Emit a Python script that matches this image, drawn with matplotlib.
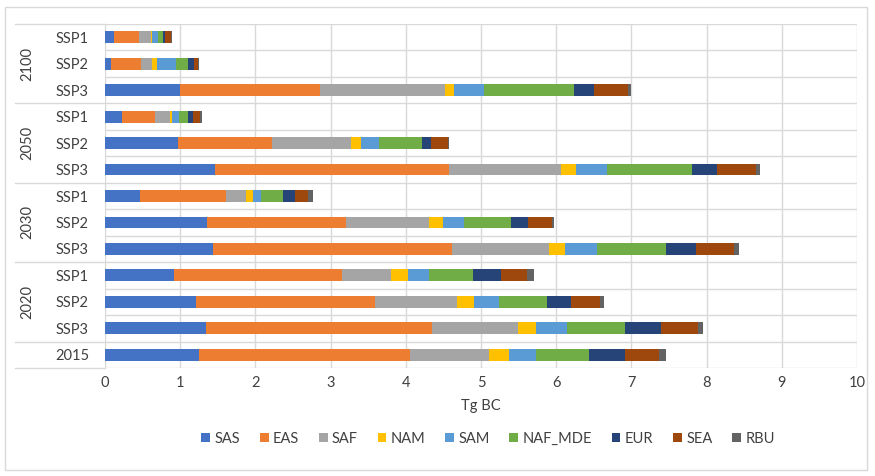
import matplotlib

matplotlib.use("Agg")

import matplotlib.pyplot as plt
import matplotlib.transforms as mtransforms
from matplotlib.patches import Rectangle
import numpy as np

# rows top to bottom
row_labels = ["SSP1", "SSP2", "SSP3", "SSP1", "SSP2", "SSP3", "SSP1", "SSP2", "SSP3",
              "SSP1", "SSP2", "SSP3", "2015"]
groups = ["2100", "2050", "2030", "2020"]
regions = ["SAS", "EAS", "SAF", "NAM", "SAM", "NAF_MDE", "EUR", "SEA", "RBU"]

SAS = [0.12, 0.08, 1.00, 0.23, 0.97, 1.46, 0.46, 1.36, 1.43, 0.92, 1.21, 1.34, 1.25]
EAS = [0.33, 0.40, 1.86, 0.43, 1.25, 3.11, 1.15, 1.84, 3.18, 2.23, 2.38, 3.01, 2.81]
SAF = [0.16, 0.14, 1.66, 0.20, 1.05, 1.49, 0.27, 1.11, 1.29, 0.65, 1.09, 1.14, 1.05]
NAM = [0.02, 0.07, 0.12, 0.03, 0.13, 0.20, 0.09, 0.18, 0.22, 0.23, 0.23, 0.24, 0.26]
SAM = [0.07, 0.26, 0.40, 0.09, 0.25, 0.41, 0.11, 0.29, 0.42, 0.28, 0.33, 0.41, 0.36]
NAF_MDE = [0.07, 0.16, 1.20, 0.12, 0.56, 1.13, 0.29, 0.62, 0.92, 0.59, 0.64, 0.78, 0.71]
EUR = [0.03, 0.07, 0.26, 0.07, 0.13, 0.34, 0.16, 0.22, 0.40, 0.37, 0.32, 0.47, 0.47]
SEA = [0.08, 0.06, 0.46, 0.09, 0.22, 0.52, 0.17, 0.32, 0.50, 0.34, 0.38, 0.49, 0.46]
RBU = [0.01, 0.01, 0.04, 0.03, 0.01, 0.05, 0.06, 0.03, 0.07, 0.09, 0.06, 0.07, 0.09]

series = [SAS, EAS, SAF, NAM, SAM, NAF_MDE, EUR, SEA, RBU]
colors = ["#4472C4", "#ED7D31", "#A5A5A5", "#FFC000", "#5B9BD5",
          "#70AD47", "#264478", "#9E480E", "#636363"]

GRID = "#D9D9D9"
TEXT = "#404040"

plt.rcParams["font.family"] = ["Lato", "DejaVu Sans"]

W, H = 875, 476
fig = plt.figure(figsize=(W / 100, H / 100), dpi=100, facecolor="white")
x0, x1, y0, y1 = 105, 857, 24, 368
ax = fig.add_axes([x0 / W, 1 - y1 / H, (x1 - x0) / W, (y1 - y0) / H])

n = len(row_labels)
y = np.arange(n)
left = np.zeros(n)
handles = []
for name, vals, col in zip(regions, series, colors):
    vals = np.array(vals)
    b = ax.barh(y, vals, left=left, height=0.45, color=col, label=name, zorder=3)
    handles.append(b)
    left += vals

ax.set_xlim(0, 10)
ax.set_ylim(n - 0.5, -0.5)
ax.set_xticks(range(11))
ax.set_yticks(y)
ax.set_yticklabels(row_labels, fontsize=10.5, color=TEXT)
ax.tick_params(axis="y", length=0, pad=11.5)
ax.tick_params(axis="x", length=0, pad=6, labelsize=10.5, labelcolor=TEXT)
ax.grid(axis="x", color=GRID, linewidth=1, zorder=0)
for s in ax.spines.values():
    s.set_visible(False)

# row separators
for k in range(n + 1):
    ax.axhline(k - 0.5, color=GRID, linewidth=1, zorder=1)

# group separators and year labels on the left
trans = mtransforms.blended_transform_factory(ax.transAxes, ax.transData)
xl = (15 - x0) / (x1 - x0)
for k in [0, 3, 6, 9, 12, 13]:
    ax.plot([xl, 0], [k - 0.5, k - 0.5], color=GRID, linewidth=1,
            transform=trans, clip_on=False)
xt = (27 - x0) / (x1 - x0)
for gi, g in enumerate(groups):
    ax.text(xt, gi * 3 + 1, g, rotation=90, ha="center", va="center",
            fontsize=10.5, color=TEXT, transform=trans)

ax.set_xlabel("Tg BC", fontsize=10.5, color=TEXT, labelpad=6)

fig.legend(handles=handles, labels=regions, loc="center", ncol=9,
           bbox_to_anchor=(488 / W, 1 - 439 / H), frameon=False, fontsize=10.5,
           handlelength=0.6, handleheight=0.6, handletextpad=0.3,
           columnspacing=1.35, labelcolor=TEXT)

fig.patches.append(Rectangle((5 / W, 1 - 470 / H), 862 / W, 463 / H,
                             transform=fig.transFigure, fill=False,
                             edgecolor=GRID, linewidth=1))

fig.savefig("out.png", dpi=100, facecolor="white")
